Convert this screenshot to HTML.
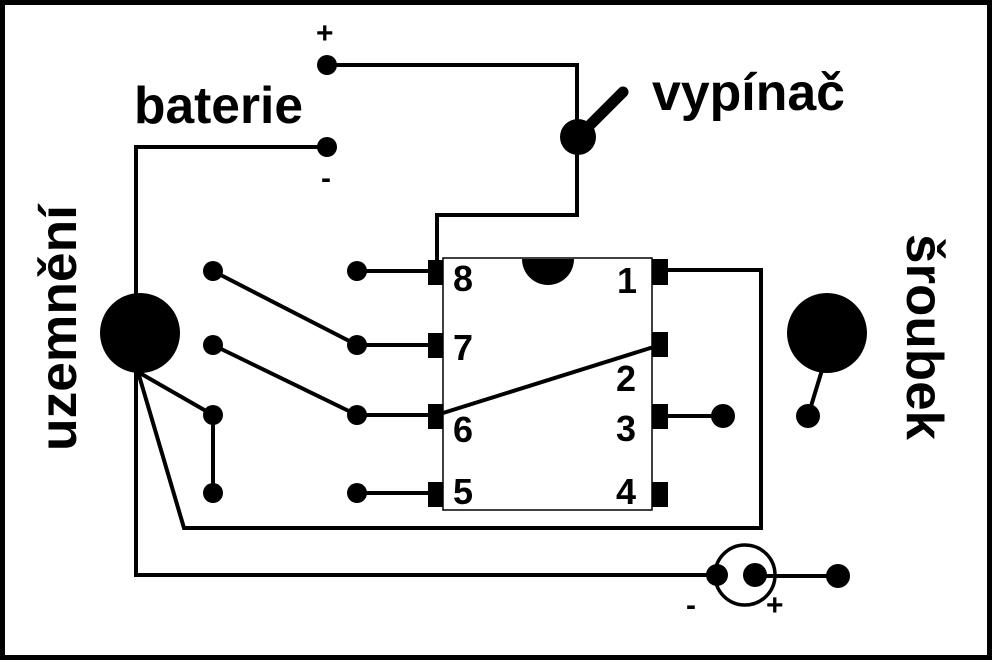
<!DOCTYPE html>
<html><head><style>html,body{margin:0;padding:0;background:#fff}svg{display:block}</style></head>
<body>
<svg width="992" height="662" viewBox="0 0 992 662" xmlns="http://www.w3.org/2000/svg" font-family="Liberation Sans, sans-serif" font-weight="bold">
<rect x="2.5" y="2.5" width="987" height="655" fill="#fff" stroke="#000" stroke-width="5"/>
<g stroke="#000" stroke-width="4" fill="none">
<polyline points="327,65 577,65 577,137"/>
<polyline points="577,137 577,215 437,215 437,262"/>
<polyline points="327,147 136,147 136,575 716,575"/>
<line x1="755" y1="576" x2="838" y2="576"/>
<polyline points="665,270 761,270 761,528 184,528 138,372"/>
<line x1="138" y1="372" x2="213" y2="415"/>
<line x1="213" y1="415" x2="213" y2="493"/>
<line x1="213" y1="271" x2="357" y2="345"/>
<line x1="213" y1="345" x2="357" y2="415"/>
<line x1="357" y1="271" x2="435" y2="271"/>
<line x1="357" y1="345" x2="435" y2="345"/>
<line x1="357" y1="415" x2="435" y2="415"/>
<line x1="357" y1="493" x2="435" y2="493"/>
<line x1="443" y1="413" x2="660" y2="345"/>
<line x1="660" y1="416" x2="723" y2="416"/>
<line x1="822" y1="370" x2="808" y2="416"/>
<line x1="578" y1="137" x2="623" y2="92" stroke-width="11" stroke-linecap="round"/>
<circle cx="745" cy="575" r="30" stroke-width="3.5"/>
</g>
<rect x="443" y="258" width="209" height="252" fill="none" stroke="#000" stroke-width="1.5"/>
<path d="M522,259 A26,26 0 0 0 574,259 Z" fill="#000"/>
<g fill="#000">
<circle cx="578" cy="137" r="18"/>
<circle cx="327" cy="65" r="10"/><circle cx="327" cy="147" r="10"/>
<circle cx="140" cy="333" r="40"/><circle cx="827" cy="333" r="40"/>
<circle cx="213" cy="271" r="10"/><circle cx="213" cy="345" r="10"/><circle cx="213" cy="415" r="10"/><circle cx="213" cy="493" r="10"/>
<circle cx="357" cy="271" r="10"/><circle cx="357" cy="345" r="10"/><circle cx="357" cy="415" r="10"/><circle cx="357" cy="493" r="10"/>
<circle cx="723" cy="416" r="12"/><circle cx="808" cy="416" r="12"/>
<circle cx="838" cy="576" r="12"/>
<circle cx="717" cy="575" r="11"/><circle cx="755" cy="575" r="12"/>
<rect x="428" y="260" width="15" height="25"/><rect x="428" y="333" width="15" height="25"/>
<rect x="428" y="404" width="15" height="25"/><rect x="428" y="482" width="15" height="25"/>
<rect x="652" y="259" width="16" height="26"/><rect x="652" y="332" width="16" height="25"/>
<rect x="652" y="404" width="16" height="25"/><rect x="652" y="482" width="16" height="25"/>
</g>
<g font-size="36" fill="#000">
<text x="453" y="291">8</text><text x="453" y="360">7</text><text x="453" y="442">6</text><text x="453" y="504">5</text>
<text x="617" y="293">1</text><text x="616" y="391">2</text><text x="616" y="441">3</text><text x="616" y="504">4</text>
</g>
<g font-size="52" fill="#000">
<text x="134" y="123" textLength="169" lengthAdjust="spacingAndGlyphs">baterie</text>
<text x="652" y="110" textLength="193" lengthAdjust="spacingAndGlyphs">vypínač</text>
<text transform="translate(76,451) rotate(-90)" textLength="246" lengthAdjust="spacingAndGlyphs">uzemnění</text>
<text transform="translate(907,234) rotate(90)" textLength="206" lengthAdjust="spacingAndGlyphs">šroubek</text>
</g>
<g font-size="30" fill="#000">
<text x="316" y="43">+</text><text x="321" y="188">-</text>
<text x="686" y="615">-</text><text x="766" y="615">+</text>
</g>
</svg>
</body></html>
